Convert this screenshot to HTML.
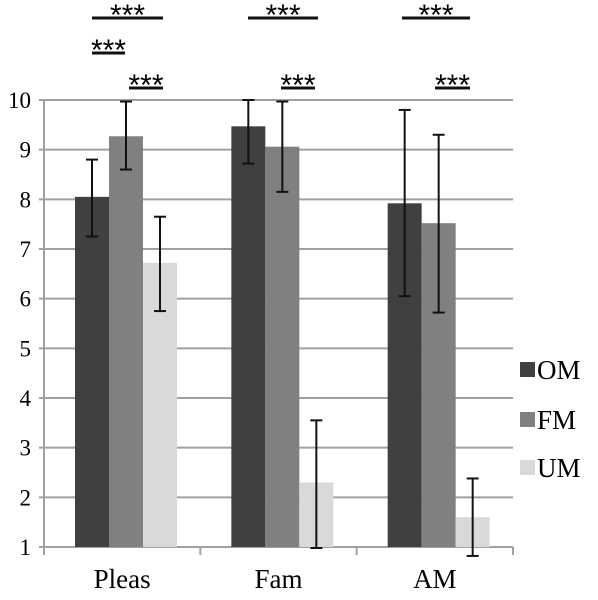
<!DOCTYPE html>
<html><head><meta charset="utf-8"><style>
body{margin:0;background:#fff}
svg{display:block;font-family:"Liberation Serif",serif}
</style></head><body>
<svg id="c" width="598" height="600"></svg>
<script>
const categories=["Pleas","Fam","AM"];
const seriesNames=["OM","FM","UM"];
const omValues=[8.05,9.47,7.92];
const fmValues=[9.27,9.06,7.52];
const umValues=[6.72,2.3,1.6];
const omLow=[7.25,8.72,6.05], omHigh=[8.8,10.0,9.8];
const fmLow=[8.6,8.15,5.72], fmHigh=[9.97,9.97,9.3];
const umLow=[5.75,0.98,0.82], umHigh=[7.65,3.55,2.38];
const yTicks=[1,2,3,4,5,6,7,8,9,10];
const colors=["#404040","#808080","#d9d9d9"];
const NS="http://www.w3.org/2000/svg";
const svg=document.getElementById('c');
const x0=44,x1=513,yTop=100,yBot=547;
const catW=(x1-x0)/categories.length;
const y=v=>yBot-(v-1)*(yBot-yTop)/9;
function el(t,a,p){const e=document.createElementNS(NS,t);for(const k in a)e.setAttribute(k,a[k]);(p||svg).appendChild(e);return e;}
yTicks.forEach(t=>{
 const g=el('line',{x1:x0-5,x2:x1,y1:y(t),y2:y(t),stroke:'#a0a0a0','stroke-width':2});
 
 
 const tx=el('text',{x:31,y:y(t)+8,'text-anchor':'end','font-size':23});
 tx.textContent=t;
 
 
});
el('line',{x1:x0,x2:x0,y1:yTop,y2:yBot+8,stroke:'#a0a0a0','stroke-width':2});
for(let i=0;i<=categories.length;i++){const xx=x0+i*catW;el('line',{x1:xx,x2:xx,y1:yBot,y2:yBot+8,stroke:'#a0a0a0','stroke-width':2});}
const vals=[omValues,fmValues,umValues],lows=[omLow,fmLow,umLow],highs=[omHigh,fmHigh,umHigh];
const bw=34;
categories.forEach((c,i)=>{
 const base=x0+i*catW+31;
 for(let s=0;s<3;s++){
  const bx=base+s*bw;
  const r=el('rect',{x:bx,y:y(vals[s][i]),width:bw,height:yBot-y(vals[s][i]),fill:colors[s]});
  
  
  const cx=bx+bw/2,lo=y(lows[s][i]),hi=y(highs[s][i]);
  const g=el('g',{stroke:'#111','stroke-width':2});
  
  
  el('line',{x1:cx,x2:cx,y1:lo,y2:hi},g);
  el('line',{x1:cx-6,x2:cx+6,y1:lo,y2:lo},g);
  el('line',{x1:cx-6,x2:cx+6,y1:hi,y2:hi},g);
 }
 const t=el('text',{x:x0+i*catW+catW/2,y:588,'text-anchor':'middle','font-size':27});
 t.textContent=c;
 
 
});
const sig=[[92,163,18],[92,125,53],[129,163,88],[248,318,18],[281,315,88],[402,470,18],[435,470,88]];
sig.forEach((s,k)=>{
 el('line',{x1:s[0],x2:s[1],y1:s[2],y2:s[2],stroke:'#111','stroke-width':3});
 const t=el('text',{x:(s[0]+s[1])/2,y:s[2]+7,'text-anchor':'middle','font-size':30,'font-family':'Liberation Sans'});
 t.textContent='***';
 
 
});
seriesNames.forEach((n,s)=>{
 const yy=[370,420,468][s];
 const r=el('rect',{x:520,y:yy-8,width:15,height:15,fill:colors[s]});
 
 
 const t=el('text',{x:537,y:yy+9,'font-size':27});
 t.textContent=n;
 
 
});
</script>
</body></html>
